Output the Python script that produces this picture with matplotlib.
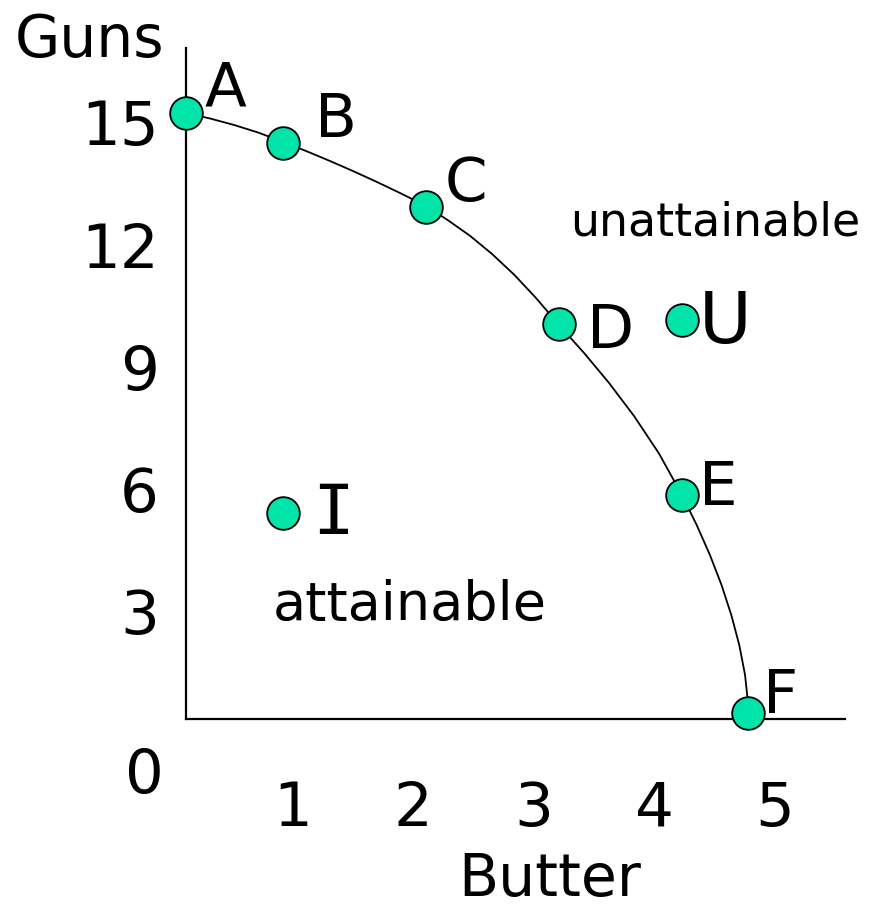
import matplotlib
matplotlib.use("Agg")
import matplotlib.pyplot as plt

# points (butter, guns)
point_names = ["A", "B", "C", "D", "E", "F", "U", "I"]
butter = [0.12, 0.92, 2.11, 3.21, 4.23, 4.78, 4.23, 0.92]
guns = [15.23, 14.50, 12.92, 10.05, 5.85, 0.49, 10.15, 5.41]

# frontier curve
curve_butter = [0.120, 0.319, 0.518, 0.717, 0.916, 1.114, 1.313, 1.512, 1.711, 1.910,
                2.109, 2.291, 2.473, 2.655, 2.838, 3.020, 3.210, 3.418, 3.625, 3.832,
                4.039, 4.229, 4.351, 4.461, 4.557, 4.638, 4.704, 4.752, 4.785]
curve_guns = [15.233, 15.098, 14.939, 14.754, 14.533, 14.300, 14.054, 13.796, 13.526, 13.243,
              12.948, 12.597, 12.216, 11.771, 11.263, 10.688, 10.025, 9.337, 8.600, 7.789,
              6.867, 5.848, 5.111, 4.373, 3.636, 2.899, 2.162, 1.425, 0.491]

x_ticks = [1, 2, 3, 4, 5]
y_ticks = [3, 6, 9, 12, 15]

# label placement next to each point: (dx, dy) in pixels, font size
label_style = {
    "A": (19, 8, 44), "B": (32, 6, 44), "C": (18, 6, 44), "D": (28, -24, 44),
    "E": (17, -10, 44), "F": (15, 0, 44), "U": (17, -23, 52), "I": (30, -21, 50),
}

fig = plt.figure(figsize=(8.79, 9.09), dpi=100)
ax = fig.add_axes([186 / 879, 1 - 719 / 909, 659 / 879, 671 / 909])

ax.plot(curve_butter, curve_guns, color="black", lw=1.3, clip_on=False, zorder=2,
        solid_joinstyle="round")
ax.plot(butter, guns, "o", ms=23.5, mfc="#00E3A9", mec="black", mew=1.3,
        clip_on=False, zorder=3)

for name, x, y in zip(point_names, butter, guns):
    dx, dy, fs = label_style[name]
    fam = "DejaVu Sans Mono" if name == "I" else "DejaVu Sans"
    ax.annotate(name, (x, y), xytext=(dx, dy), textcoords="offset pixels",
                ha="left", va="baseline", fontsize=fs, family=fam)

ax.annotate("unattainable", (0, 1), xycoords="axes fraction",
            xytext=(570 - 186, 48 - 235), textcoords="offset pixels",
            ha="left", va="baseline", fontsize=33)
ax.annotate("attainable", (0, 1), xycoords="axes fraction",
            xytext=(273 - 186, 48 - 620), textcoords="offset pixels",
            ha="left", va="baseline", fontsize=39)
ax.annotate("0", (0, 0), xycoords="axes fraction", xytext=(-42, -74),
            textcoords="offset pixels", ha="center", va="baseline", fontsize=44)

ax.set_xlim(0.12, 5.58)
ax.set_ylim(0.344, 16.83)
ax.spines[["top", "right"]].set_visible(False)
ax.spines["left"].set_linewidth(1.6)
ax.spines["bottom"].set_linewidth(1.6)

ax.set_xticks(x_ticks)
ax.set_xticklabels([str(t) for t in x_ticks])
ax.set_yticks(y_ticks)
ax.set_yticklabels([str(t) for t in y_ticks])
ax.tick_params(length=0, labelsize=44)
ax.tick_params(axis="x", pad=77)
ax.tick_params(axis="y", pad=19.5)
for lbl in ax.get_xticklabels():
    lbl.set_va("baseline")

ax.set_xlabel("Butter", fontsize=42, va="baseline")
ax.xaxis.set_label_coords(364 / 659, -177 / 671)
ax.set_ylabel("Guns", fontsize=42, rotation=0, ha="center", va="baseline")
ax.yaxis.set_label_coords(-96 / 659, 662 / 671)

fig.savefig("out.png", dpi=100)
